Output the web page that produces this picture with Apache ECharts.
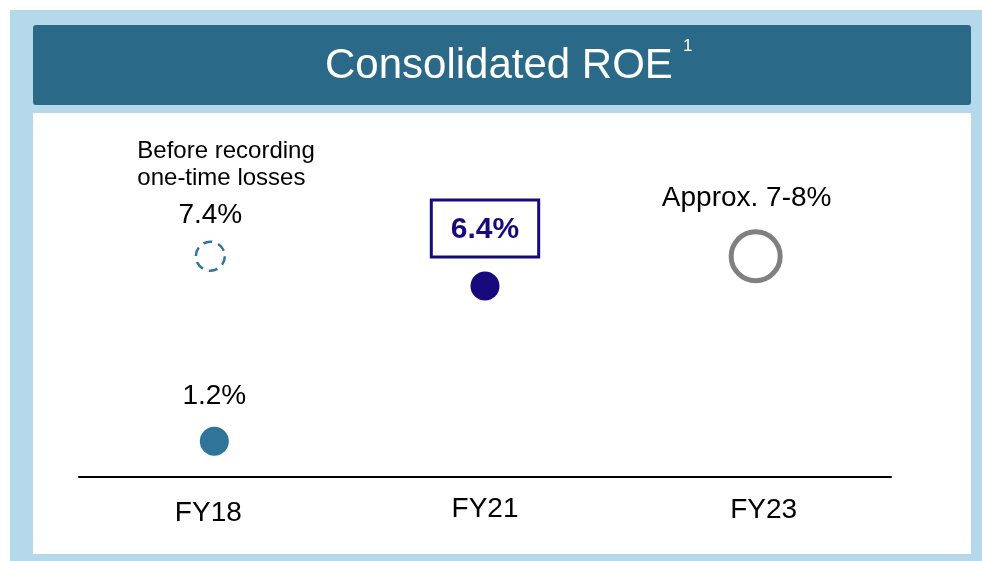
<!DOCTYPE html>
<html>
<head>
<meta charset="utf-8">
<script src="https://cdn.jsdelivr.net/npm/echarts@6/dist/echarts.min.js"></script>
<style>
html,body{margin:0;padding:0;background:#fff;}
#c{width:982px;height:561px;}
</style>
</head>
<body>
<div id="c"></div>
<script>
const categories = ['FY18', 'FY21', 'FY23'];
const roeActual = [1.2, 6.4, null];
const roeBeforeLosses = [7.4, null, null];
const roeTarget = [null, null, 7.4];
const actualLabels = ['1.2%', '6.4%', ''];
const beforeLabel = ['Before recording', 'one-time losses', '7.4%'];
const targetLabel = 'Approx. 7-8%';

const FONT = "'Liberation Sans', Arial, sans-serif";
const TEAL = '#2e7599';
const NAVY = '#170a7c';

const chart = echarts.init(document.getElementById('c'));

const actualData = roeActual.map((v, i) => {
  if (v == null) return null;
  if (i === 0) {
    return {
      value: [categories[i], v],
      itemStyle: { color: TEAL, opacity: 1 },
      label: { formatter: actualLabels[i], distance: 16, fontSize: 28, lineHeight: 28, color: '#000' }
    };
  }
  return {
    value: [categories[i], v],
    itemStyle: { color: NAVY, opacity: 1 },
    label: {
      formatter: actualLabels[i], distance: 16, fontSize: 30, fontWeight: 'bold', lineHeight: 30,
      color: NAVY, borderColor: NAVY, borderWidth: 3, padding: [13, 18, 11, 18], backgroundColor: '#fff'
    }
  };
}).filter(d => d);

const beforeData = roeBeforeLosses.map((v, i) => v == null ? null : [categories[i], v]).filter(d => d);
const targetData = roeTarget.map((v, i) => v == null ? null : [categories[i], v]).filter(d => d);

chart.setOption({
  animation: false,
  graphic: [
    { type: 'rect', z: -10, shape: { x: 10, y: 10, width: 972, height: 551 }, style: { fill: '#b5d9ea' } },
    { type: 'rect', z: -9, shape: { x: 33, y: 25, width: 938, height: 80, r: 3 }, style: { fill: '#2a6a88' } },
    { type: 'rect', z: -9, shape: { x: 33, y: 113, width: 938, height: 441 }, style: { fill: '#ffffff' } }
  ],
  title: [
    { text: 'Consolidated ROE', left: 325, top: 45, padding: 0,
      textStyle: { color: '#fff', fontSize: 42, fontWeight: 'normal', fontFamily: FONT, lineHeight: 42 } },
    { text: '1', left: 683, top: 38, padding: 0,
      textStyle: { color: '#fff', fontSize: 17, fontWeight: 'normal', fontFamily: FONT, lineHeight: 17 } }
  ],
  grid: { left: 79, right: 91, top: 119, bottom: 84 },
  xAxis: {
    type: 'category',
    data: categories,
    axisLine: { lineStyle: { color: '#000', width: 2 } },
    axisTick: { show: false },
    axisLabel: {
      margin: 18,
      formatter: (v, i) => ['{a|' + v + '}', '{b|' + v + '}', '{c|' + v + '}'][i],
      rich: {
        a: { fontSize: 28, lineHeight: 28, color: '#000', fontFamily: FONT, padding: [8, 12, 0, 0] },
        b: { fontSize: 28, lineHeight: 28, color: '#000', fontFamily: FONT },
        c: { fontSize: 28, lineHeight: 28, color: '#000', fontFamily: FONT, padding: [2, 0, 0, 16] }
      }
    },
    splitLine: { show: false }
  },
  yAxis: { type: 'value', min: 0, max: 12, show: false },
  series: [
    {
      name: 'ROE',
      type: 'scatter',
      symbolSize: 29,
      data: actualData,
      itemStyle: { opacity: 1 },
      label: { show: true, position: 'top', fontFamily: FONT, color: '#000' }
    },
    {
      name: 'ROE before one-time losses',
      type: 'scatter',
      symbolSize: 29,
      symbolOffset: [-4, 0],
      itemStyle: { color: 'rgba(255,255,255,0)', opacity: 1, borderColor: TEAL, borderWidth: 2.5, borderType: [9, 6.2] },
      data: beforeData,
      label: {
        show: true, position: 'top', distance: 2, color: '#000',
        formatter: '{a|' + beforeLabel[0] + '}\n{a|' + beforeLabel[1] + '}\n{b|' + beforeLabel[2] + '}',
        rich: {
          a: { fontSize: 24, lineHeight: 27, color: '#000', fontFamily: FONT, width: 176, align: 'left', padding: [0, 0, 0, 30] },
          b: { fontSize: 28, lineHeight: 47, color: '#000', fontFamily: FONT, align: 'center' }
        }
      }
    },
    {
      name: 'Target',
      type: 'scatter',
      symbolSize: 49,
      itemStyle: { color: 'rgba(255,255,255,0)', opacity: 1, borderColor: '#808080', borderWidth: 5 },
      data: targetData,
      label: { show: true, position: 'top', distance: 17, offset: [-9, 0], formatter: targetLabel, fontSize: 28, lineHeight: 28, color: '#000', fontFamily: FONT }
    }
  ]
});
</script>
</body>
</html>
